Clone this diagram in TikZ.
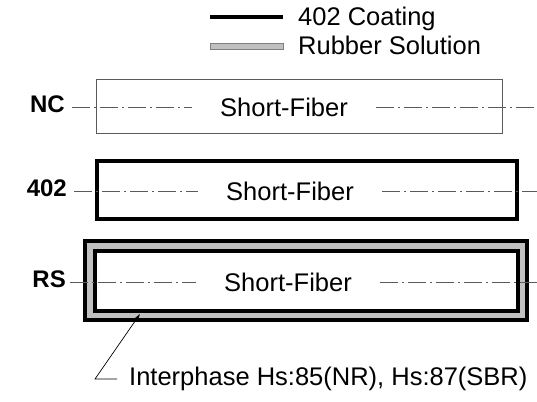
\documentclass[tikz,border=0pt]{standalone}
\usepackage{fontspec}
\setmainfont{Liberation Sans}
\usetikzlibrary{arrows.meta, positioning}
\definecolor{fbgray}{RGB}{192,192,192}
\definecolor{fbline}{RGB}{90,90,90}

\begin{document}
\begin{tikzpicture}[x=1pt, y=-1pt,
  every node/.style={font=\fontsize{25.5}{30}\selectfont, inner sep=0pt},
  tag/.style={font=\bfseries\fontsize{24}{28}\selectfont, anchor=east},
  fibertxt/.style={inner xsep=28pt},
  ncbox/.style={draw=fbline, line width=1pt},
  coatbox/.style={draw=black, line width=3.8pt, fill=white},
  rsbox/.style={draw=black, line width=3.8pt, fill=fbgray},
  axisln/.style={draw=fbline, line width=0.9pt,
                 dash pattern=on 18pt off 4pt on 2pt off 4pt},
  pointer/.style={-{Stealth[length=7pt,width=4pt]}, line width=0.7pt},
]
\useasboundingbox (0,0) rectangle (537,401);

% Legend
\draw[line width=4pt] (210,17) -- (283,17);
\draw[draw=gray, fill=fbgray, line width=0.6pt] (210,43) rectangle (283,49);
\node[anchor=base west] (lgcoat) at (298,26) {402 Coating};
\node[anchor=base west] (lgrub)  at (298,55) {Rubber Solution};

% ── NC ──
\draw[ncbox] (96,80) rectangle (502,133);
\node[tag] (nc) at (65,104) {NC};
\node[fibertxt] (ncfib) at (284,107) {Short-Fiber};
\draw[axisln] (72,107) -- (ncfib.west);
\draw[axisln] (ncfib.east) -- (537,107);

% ── 402 ──
\draw[coatbox] (97,161) rectangle (517,219);
\node[tag] (coat) at (67,188) {402};
\node[fibertxt] (coatfib) at (290,191) {Short-Fiber};
\draw[axisln] (74,191) -- (coatfib.west);
\draw[axisln] (coatfib.east) -- (537,191);

% ── RS ──
\draw[rsbox] (85,241) rectangle (527,320);
\draw[coatbox] (95,251) rectangle (518,311);
\node[tag] (rs) at (66,279) {RS};
\node[fibertxt] (rsfib) at (288,282) {Short-Fiber};
\draw[axisln] (70,282) -- (rsfib.west);
\draw[axisln] (rsfib.east) -- (537,282);

% Interphase callout
\coordinate (iptip) at (140,314);
\node[anchor=west] (iplabel) at (129,379) {Interphase Hs:85(NR), Hs:87(SBR)};
\draw[pointer] ([xshift=-12pt]iplabel.west) -- ++(-22,0) -- (iptip);

\end{tikzpicture}
\end{document}
